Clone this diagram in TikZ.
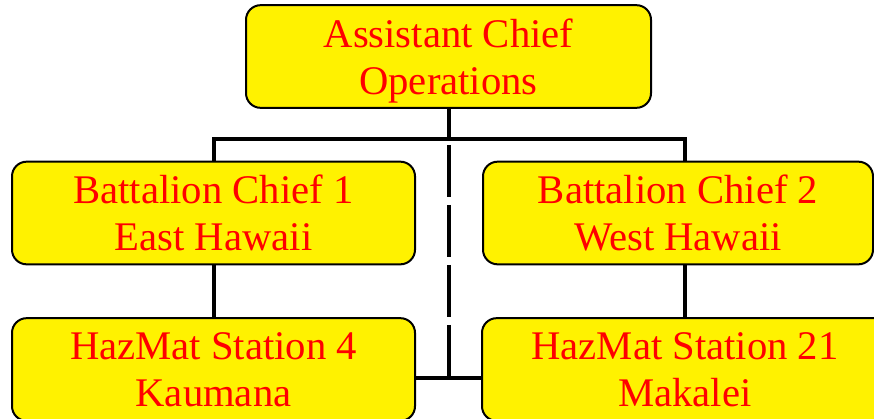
\documentclass[tikz,border=0pt]{standalone}
\usepackage{fontspec}
\setmainfont{Liberation Serif}
\usetikzlibrary{calc}
\tikzset{post/.style={draw,line width=1.5pt,fill=yellow,rounded corners=11pt,text=red,align=center,font=\fontsize{30.5}{35}\selectfont,minimum height=77pt,inner sep=0pt,text depth=0pt}}
\tikzset{link/.style={line width=3pt}}
\tikzset{staff/.style={link,dash pattern=on 39pt off 6pt,dash phase=40.5pt}}

\begin{document}
\begin{tikzpicture}[x=0.75pt,y=-0.75pt]
    \clip (0,0) rectangle (874,418);
    \node [post,minimum width=303.75pt] (aco) at (448.5,56.5) {Assistant Chief\\Operations};
    \node [post,minimum width=302.25pt] (bc1) at (213.5,213) {Battalion Chief 1\\East Hawaii};
    \node [post,minimum width=292.5pt] (bc2) at (678,213) {Battalion Chief 2\\West Hawaii};
    \node [post,minimum width=302.25pt] (hm4) at (213.5,369.5) {HazMat Station 4\\Kaumana};
    \node [post,minimum width=304.5pt] (hm21) at (685,369.5) {HazMat Station 21\\Makalei};
    \coordinate (bus) at ($(aco.south)+(0,30)$);
    \coordinate (drop) at ($(bus |- hm4.east)+(0,8.5)$);
    \draw [link] (aco.south) -- (bus);
    \draw [link] (bc1.north) |- (bus) -| (hm21.north |- bc2.north);
    \draw [link] (bc1.south) -- (hm4.north);
    \draw [link] (hm21.north |- bc2.south) -- (hm21.north);
    \draw [staff] (bus) -- (drop);
    \draw [link] (drop -| hm4.east) -- (drop -| hm21.west);
\end{tikzpicture}
\end{document}
